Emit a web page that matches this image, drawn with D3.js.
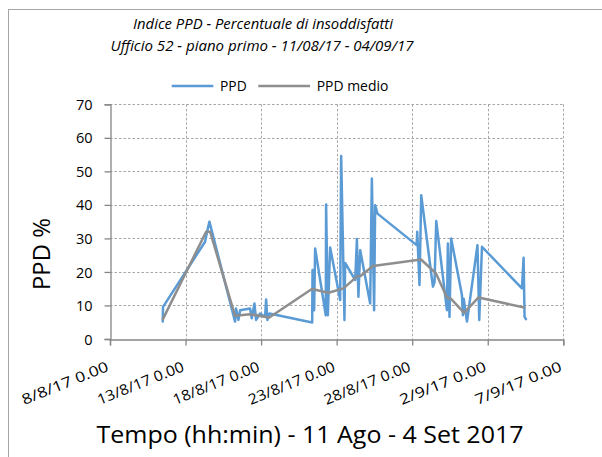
<!DOCTYPE html>
<html><head><meta charset="utf-8">
<script src="https://cdn.jsdelivr.net/npm/d3@7"></script>
<style>html,body{margin:0;padding:0;background:#fff;}svg{display:block;}text{font-family:"Open Sans",sans-serif;fill:#000;}</style>
</head><body>
<svg id="c" width="602" height="457"></svg>
<script>
const titleLines = ["Indice PPD - Percentuale di insoddisfatti", "Ufficio 52 - piano primo - 11/08/17 - 04/09/17"];
const seriesNames = ["PPD", "PPD medio"];
const yTicks = [0, 10, 20, 30, 40, 50, 60, 70];
const xTickDates = ["2017-08-08", "2017-08-13", "2017-08-18", "2017-08-23", "2017-08-28", "2017-09-02", "2017-09-07"];
const yTitle = "PPD %";
const xTitle = "Tempo (hh:min) - 11 Ago - 4 Set 2017";

const ppd = [
["2017-08-11 11:45",5.2],["2017-08-11 12:15",9.6],["2017-08-14 07:00",29],["2017-08-14 09:40",31.5],
["2017-08-14 13:55",35],["2017-08-16 06:40",5.2],["2017-08-16 08:10",9.1],["2017-08-16 12:00",5.7],
["2017-08-16 14:40",8.6],["2017-08-17 06:30",9.1],["2017-08-17 09:10",6.2],["2017-08-17 13:25",10.6],
["2017-08-17 16:00",5.7],["2017-08-17 22:20",7.6],["2017-08-18 06:20",6.6],["2017-08-18 08:00",11.8],
["2017-08-18 10:00",5.7],["2017-08-18 13:10",7.6],["2017-08-21 09:10",4.9],["2017-08-21 09:40",20.6],
["2017-08-21 12:15",8.6],["2017-08-21 13:50",27],["2017-08-22 06:45",7.1],["2017-08-22 07:15",40.1],
["2017-08-22 10:00",7.1],["2017-08-22 13:40",27.3],["2017-08-23 05:35",11.6],["2017-08-23 07:10",54.6],
["2017-08-23 12:25",5.7],["2017-08-23 13:25",22.7],["2017-08-24 05:30",17.6],["2017-08-24 08:10",29.8],
["2017-08-24 10:35",12.6],["2017-08-24 13:25",26.5],["2017-08-25 05:15",10.6],["2017-08-25 07:55",47.9],
["2017-08-25 11:30",8.6],["2017-08-25 13:10",39.9],["2017-08-25 16:50",37.4],["2017-08-28 07:00",28],
["2017-08-28 08:00",32],["2017-08-28 11:35",16.1],["2017-08-28 14:20",42.9],["2017-08-29 08:55",15.6],
["2017-08-29 11:30",17],["2017-08-29 14:10",35.2],["2017-08-30 07:10",8.6],["2017-08-30 08:40",28.5],
["2017-08-30 11:15",6.6],["2017-08-30 13:55",30],["2017-08-31 07:00",13.1],["2017-08-31 08:35",7.1],
["2017-08-31 09:50",12],["2017-08-31 15:00",5.2],["2017-09-01 07:40",28],["2017-09-01 10:30",5.7],
["2017-09-01 14:50",27.5],["2017-09-04 06:20",15.1],["2017-09-04 08:55",24.2],["2017-09-04 10:30",6.6],
["2017-09-04 12:40",5.9]
];
const ppdMedio = [
["2017-08-11 12:15",6],["2017-08-14 08:40",32],["2017-08-14 15:00",32],["2017-08-16 06:40",6.9],
["2017-08-17 06:30",7.4],["2017-08-18 13:00",6.4],["2017-08-21 08:40",14.9],["2017-08-22 11:00",13.8],
["2017-08-23 10:50",15.1],["2017-08-24 08:00",18.6],["2017-08-24 14:00",18.8],["2017-08-25 09:40",21.8],
["2017-08-28 14:00",23.7],["2017-08-29 13:40",19.6],["2017-08-30 07:10",12.4],["2017-08-30 13:00",12.1],
["2017-08-31 10:30",7.8],["2017-09-01 09:20",12.4],["2017-09-04 10:00",9.4]
];

const parseT = d3.timeParse("%Y-%m-%d %H:%M");
const parseD = d3.timeParse("%Y-%m-%d");
const svg = d3.select("#c");

// frame
svg.append("rect").attr("x", 8.5).attr("y", 9.5).attr("width", 700).attr("height", 600)
  .attr("fill", "none").attr("stroke", "#a6a6a6").attr("stroke-width", 1);

const L = 110, R = 563.3, T = 104.3, B = 339;
const ticksX = xTickDates.map(parseD);
const x = d3.scaleTime().domain([ticksX[0], ticksX[ticksX.length - 1]]).range([L, R]);
const y = d3.scaleLinear().domain([0, 70]).range([B, T]);

// grid
const grid = svg.append("g");
grid.selectAll(".gy").data(yTicks.filter(v => v > 0)).join("line")
  .attr("x1", L).attr("x2", R).attr("y1", d => Math.round(y(d)) + 0.5).attr("y2", d => Math.round(y(d)) + 0.5)
  .attr("stroke", "#a6a6a6").attr("stroke-width", 1).attr("stroke-dasharray", "2.5,2");
grid.selectAll(".gx").data(ticksX.slice(1)).join("line")
  .attr("y1", T).attr("y2", B).attr("x1", d => Math.round(x(d)) + 0.5).attr("x2", d => Math.round(x(d)) + 0.5)
  .attr("stroke", "#a6a6a6").attr("stroke-width", 1).attr("stroke-dasharray", "2.5,2");

// axes
const yAxis = svg.append("g").attr("transform", `translate(${L + 0.5},0)`)
  .call(d3.axisLeft(y).tickValues(yTicks).tickSize(6).tickPadding(12).tickFormat(d3.format("d")));
const xAxis = svg.append("g").attr("transform", `translate(0,${B + 0.5})`)
  .call(d3.axisBottom(x).tickValues(ticksX).tickSize(6).tickFormat(d3.timeFormat("%-d/%-m/%y 0.00")));
[yAxis, xAxis].forEach(a => {
  a.select(".domain").attr("stroke", "#868686").attr("stroke-width", 1.3);
  a.selectAll(".tick line").attr("stroke", "#868686").attr("stroke-width", 1.3);
  a.selectAll("text").style("font-size", "14.5px").style("font-weight", 400).attr("fill", "#000");
});
yAxis.selectAll("text").attr("dy", "0.35em");
xAxis.selectAll(".tick text")
  .attr("text-anchor", "end").attr("dy", 0).attr("y", 0)
  .attr("textLength", 92).attr("lengthAdjust", "spacingAndGlyphs")
  .attr("transform", "translate(-1,31) rotate(-22)");

// lines
const line = d3.line().x(d => x(parseT(d[0]))).y(d => y(d[1]));
svg.append("path").datum(ppd).attr("d", line).attr("fill", "none")
  .attr("stroke", "#5B9BD5").attr("stroke-width", 2.5).attr("stroke-linejoin", "round").attr("stroke-linecap", "round");
svg.append("path").datum(ppdMedio).attr("d", line).attr("fill", "none")
  .attr("stroke", "#8E8E8E").attr("stroke-width", 2.5).attr("stroke-linejoin", "round").attr("stroke-linecap", "round");

// titles
svg.append("text").attr("x", 263).attr("y", 29).attr("text-anchor", "middle")
  .style("font-size", "14px").style("font-style", "italic").style("font-weight", 400)
  .attr("textLength", 260).attr("lengthAdjust", "spacingAndGlyphs").text(titleLines[0]);
svg.append("text").attr("x", 262).attr("y", 50.5).attr("text-anchor", "middle")
  .style("font-size", "14px").style("font-style", "italic").style("font-weight", 400)
  .attr("textLength", 303).attr("lengthAdjust", "spacingAndGlyphs").text(titleLines[1]);

// legend
const leg = [{name: seriesNames[0], c: "#5B9BD5", x1: 171.7, x2: 213.3, tx: 220, w: 26.7},
             {name: seriesNames[1], c: "#8E8E8E", x1: 258.3, x2: 310, tx: 316.7, w: 71.6}];
leg.forEach(l => {
  svg.append("line").attr("x1", l.x1).attr("x2", l.x2).attr("y1", 86).attr("y2", 86)
    .attr("stroke", l.c).attr("stroke-width", 2.5);
  svg.append("text").attr("x", l.tx).attr("y", 91).style("font-size", "15px")
    .attr("textLength", l.w).attr("lengthAdjust", "spacingAndGlyphs").text(l.name);
});

// axis titles
svg.append("text").attr("transform", "translate(50,254) rotate(-90)").attr("text-anchor", "middle")
  .style("font-size", "23px").style("font-weight", 380)
  .attr("textLength", 72).attr("lengthAdjust", "spacingAndGlyphs").text(yTitle);
svg.append("text").attr("x", 310).attr("y", 443).attr("text-anchor", "middle")
  .style("font-size", "23px").style("font-weight", 380)
  .attr("textLength", 427).attr("lengthAdjust", "spacingAndGlyphs").text(xTitle);
</script>
</body></html>
